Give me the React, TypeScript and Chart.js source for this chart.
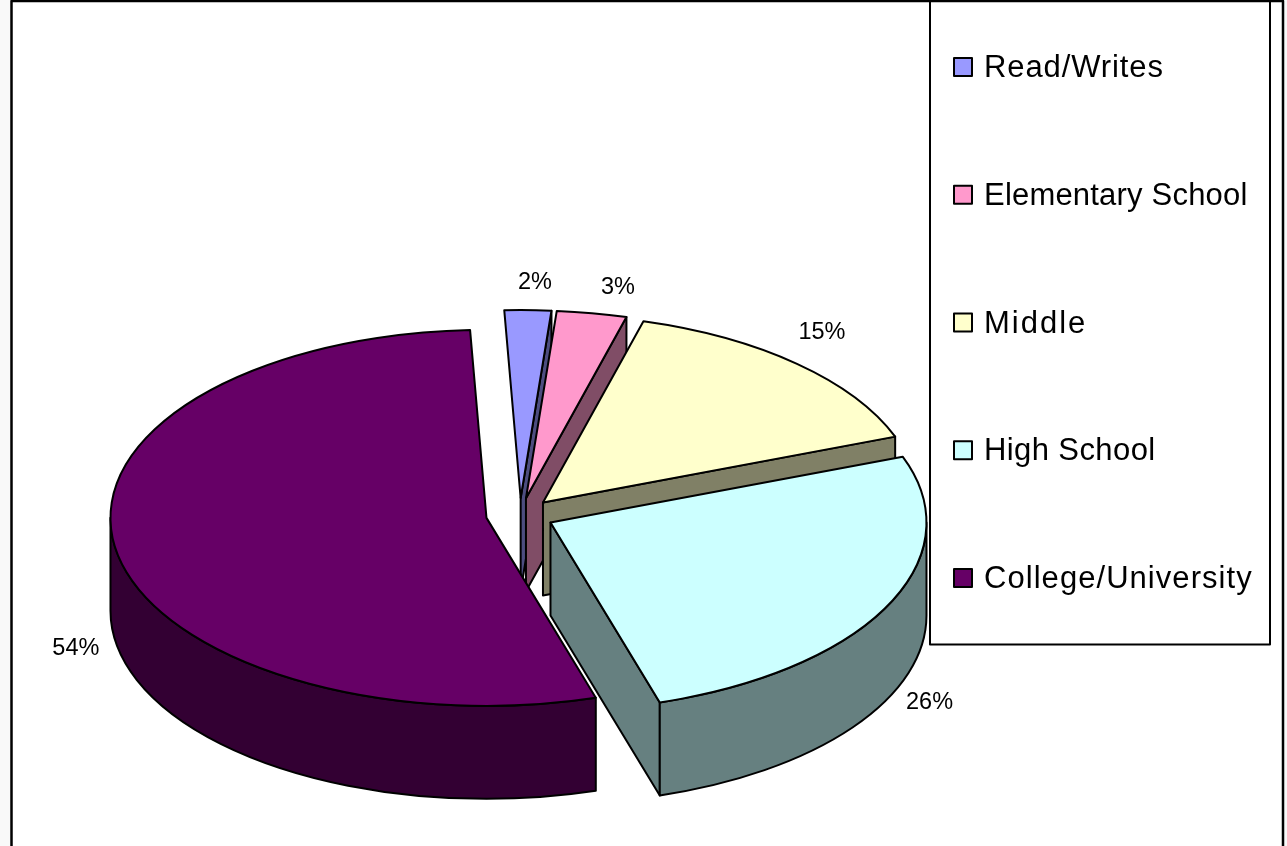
import React, { useEffect, useRef } from "react";
import { Chart, registerables } from "chart.js";

Chart.register(...registerables);

// Education levels and their shares, clockwise from the top of the disc.
const categories = ["Read/Writes", "Elementary School", "Middle", "High School", "College/University"];
const shares = [2, 3, 15, 26, 54];
const sliceColors = ["#9999FF", "#FF99CC", "#FFFFCC", "#CCFFFF", "#660066"];
const wallColors = ["#4D4D80", "#804D66", "#808066", "#668080", "#330033"];

const RADIUS = 376;
const SQUASH = 0.5;
const DEPTH = 93;
const EXPLODE = 34;
const PIE_CENTER_Y = 515;
const START_ROTATION = -2.5;
const LINE = 2;
const FONT = '"Liberation Sans", Arial, sans-serif';

// Shift of each percentage label from the rim point of its slice.
const labelNudges = [
  [7, -28],
  [26, -26],
  [25, -31],
  [42, 4],
  [-40, 6],
];

// Extra tracking for each key entry, in pixels.
const keyTracking = [0.9, 0.2, 2, 0.4, 1.05];

function sliceFrame(arc: any) {
  const mid = (arc.startAngle + arc.endAngle) / 2;
  return {
    mid,
    cx: arc.x + Math.cos(mid) * EXPLODE,
    cy: PIE_CENTER_Y + Math.sin(mid) * EXPLODE * SQUASH,
    rx: arc.outerRadius,
    ry: arc.outerRadius * SQUASH,
  };
}

function paintPath(ctx: CanvasRenderingContext2D, fill: string | null) {
  if (fill) {
    ctx.fillStyle = fill;
    ctx.fill();
  }
  ctx.strokeStyle = "#000";
  ctx.lineWidth = LINE;
  ctx.lineJoin = "round";
  ctx.stroke();
}

function drawEdgeWall(ctx: CanvasRenderingContext2D, f: any, angle: number, color: string) {
  const ex = f.cx + Math.cos(angle) * f.rx;
  const ey = f.cy + Math.sin(angle) * f.ry;
  ctx.beginPath();
  ctx.moveTo(f.cx, f.cy);
  ctx.lineTo(ex, ey);
  ctx.lineTo(ex, ey + DEPTH);
  ctx.lineTo(f.cx, f.cy + DEPTH);
  ctx.closePath();
  paintPath(ctx, color);
}

function drawRimWall(ctx: CanvasRenderingContext2D, f: any, from: number, to: number, color: string) {
  ctx.beginPath();
  ctx.ellipse(f.cx, f.cy, f.rx, f.ry, 0, from, to);
  ctx.ellipse(f.cx, f.cy + DEPTH, f.rx, f.ry, 0, to, from, true);
  ctx.closePath();
  paintPath(ctx, color);
}

// Draws the pie as a tilted, exploded disc: walls first, then the library's own arcs on top.
const tiltedPie = {
  id: "tiltedPie",
  beforeDatasetsDraw(chart: any) {
    const { ctx } = chart;
    const arcs = chart.getDatasetMeta(0).data;

    arcs.forEach((arc: any, i: number) => {
      const f = sliceFrame(arc);
      if (Math.cos(arc.endAngle) > 0.02) drawEdgeWall(ctx, f, arc.endAngle, wallColors[i]);
      if (Math.cos(arc.startAngle) < -0.2) drawEdgeWall(ctx, f, arc.startAngle, wallColors[i]);
      const from = Math.max(arc.startAngle, 0);
      const to = Math.min(arc.endAngle, Math.PI);
      if (to > from) drawRimWall(ctx, f, from, to, wallColors[i]);
    });

    arcs.forEach((arc: any) => {
      const f = sliceFrame(arc);
      ctx.save();
      ctx.translate(f.cx, f.cy);
      ctx.scale(1, SQUASH);
      ctx.translate(-arc.x, -arc.y);
      arc.draw(ctx);
      ctx.beginPath();
      ctx.moveTo(arc.x, arc.y);
      ctx.arc(arc.x, arc.y, arc.outerRadius, arc.startAngle, arc.endAngle);
      ctx.closePath();
      ctx.restore();
      paintPath(ctx, null);
    });

    ctx.save();
    ctx.fillStyle = "#000";
    ctx.font = `23.5px ${FONT}`;
    ctx.textAlign = "center";
    ctx.textBaseline = "middle";
    arcs.forEach((arc: any, i: number) => {
      const f = sliceFrame(arc);
      const rimX = f.cx + Math.cos(f.mid) * f.rx;
      const rimY = f.cy + Math.sin(f.mid) * f.ry + (Math.sin(f.mid) > 0 ? DEPTH : 0);
      ctx.fillText(`${shares[i]}%`, rimX + labelNudges[i][0], rimY + labelNudges[i][1]);
    });
    ctx.restore();
    return false;
  },
};

// Page frame and the boxed key on the right.
const frameAndKey = {
  id: "frameAndKey",
  beforeDraw(chart: any) {
    const { ctx, width, height } = chart;
    ctx.save();
    ctx.fillStyle = "#f9f9f9";
    ctx.fillRect(0, 0, width, height);
    ctx.fillStyle = "#fff";
    ctx.fillRect(12, 1, 1271, height);
    ctx.restore();
  },
  afterDraw(chart: any) {
    const { ctx, height } = chart;
    const labels: string[] = chart.data.labels;
    const colors: string[] = chart.data.datasets[0].backgroundColor;
    ctx.save();
    ctx.strokeStyle = "#000";
    ctx.lineWidth = 2.5;
    ctx.beginPath();
    ctx.moveTo(11.5, height + 2);
    ctx.lineTo(11.5, 1);
    ctx.lineTo(1283, 1);
    ctx.lineTo(1283, height + 2);
    ctx.stroke();
    ctx.lineWidth = 2;
    ctx.strokeRect(930, 1, 340, 643.5);

    ctx.font = `31px ${FONT}`;
    ctx.textAlign = "left";
    ctx.textBaseline = "alphabetic";
    labels.forEach((label, i) => {
      const baseline = 77 + i * 127.75;
      ctx.fillStyle = colors[i];
      ctx.fillRect(954, baseline - 19, 18, 18);
      ctx.strokeStyle = "#000";
      ctx.lineWidth = 2;
      ctx.strokeRect(954, baseline - 19, 18, 18);
      ctx.fillStyle = "#000";
      (ctx as any).letterSpacing = `${keyTracking[i]}px`;
      ctx.fillText(label, 984, baseline);
    });
    ctx.restore();
  },
};

export default function App() {
  const canvasRef = useRef<HTMLCanvasElement>(null);

  useEffect(() => {
    const chart = new Chart(canvasRef.current!, {
      type: "pie",
      data: {
        labels: categories,
        datasets: [
          {
            data: shares,
            backgroundColor: sliceColors,
            borderWidth: 0,
            radius: RADIUS,
          },
        ],
      },
      options: {
        responsive: false,
        animation: false,
        rotation: START_ROTATION,
        layout: { padding: { right: 247 } },
        plugins: {
          legend: { display: false },
          tooltip: { enabled: false },
          title: { display: false },
        },
      },
      plugins: [frameAndKey, tiltedPie],
    } as any);
    return () => chart.destroy();
  }, []);

  return (
    <canvas
      ref={canvasRef}
      width={1287}
      height={846}
      style={{ position: "absolute", left: 0, top: 0, display: "block" }}
    />
  );
}
